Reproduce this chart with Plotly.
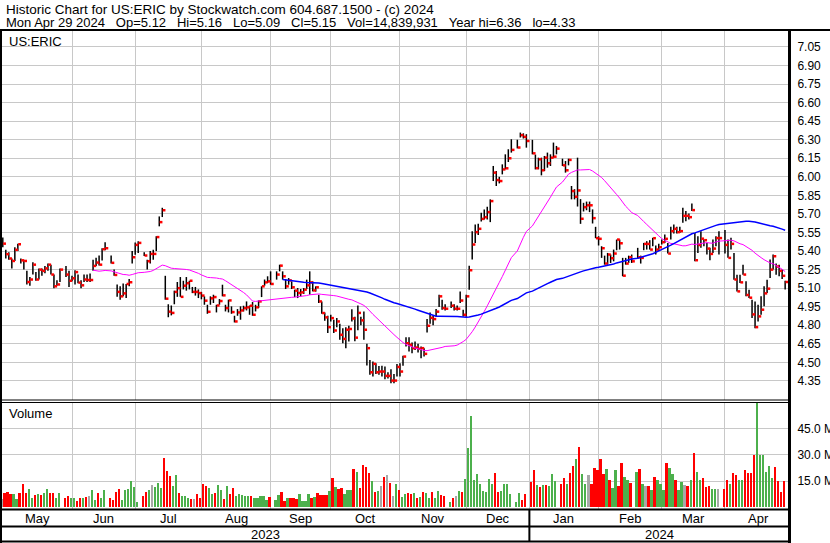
import numpy as np
import pandas as pd
import plotly.graph_objects as go

# ---------------- data ----------------
start_date = "2023-05-01"
end_date = "2024-04-29"
holidays = ["2023-05-29", "2023-06-19", "2023-07-04", "2023-09-04", "2023-11-23",
            "2023-12-25", "2024-01-01", "2024-01-15", "2024-02-19", "2024-03-29"]

high = [
    # May 2023
    5.51, 5.41, 5.39, 5.34, 5.43, 5.46, 5.34, 5.33, 5.24, 5.19, 5.31, 5.23, 5.26, 5.26, 5.28,
    5.30, 5.29, 5.21, 5.165, 5.26, 5.28, 5.24,
    # Jun
    5.20, 5.245, 5.21, 5.164, 5.21, 5.21, 5.218, 5.33, 5.345, 5.364, 5.423, 5.472, 5.364, 5.25,
    5.13, 5.115, 5.137, 5.134, 5.175, 5.40, 5.47,
    # Jul
    5.48, 5.39, 5.33, 5.40, 5.41, 5.52, 5.68, 5.75, 5.20, 4.97, 4.96, 5.08, 5.15, 5.19, 5.16,
    5.19, 5.16, 5.11, 5.11, 5.09,
    # Aug
    5.07, 5.034, 4.966, 5.034, 5.047, 4.966, 5.012, 5.128, 4.966, 5.007, 4.953, 4.877, 4.931,
    4.953, 4.958, 4.993, 4.96, 4.988, 4.966, 5.001, 5.115, 5.17, 5.196,
    # Sep
    5.236, 5.236, 5.29, 5.236, 5.174, 5.182, 5.155, 5.088, 5.101, 5.093, 5.101, 5.169, 5.236,
    5.155, 5.115, 5.047, 4.993, 4.904, 4.877, 4.885,
    # Oct
    4.845, 4.858, 4.812, 4.777, 4.785, 4.796, 4.93, 4.87, 4.96, 4.87, 4.912, 4.65, 4.52, 4.507,
    4.493, 4.47, 4.472, 4.466, 4.42, 4.445, 4.407, 4.488,
    # Nov
    4.493, 4.553, 4.704, 4.704, 4.661, 4.669, 4.65, 4.628, 4.615, 4.85, 4.904, 4.88, 4.931,
    5.047, 5.007, 4.97, 4.993, 4.97, 4.96, 5.074, 4.926,
    # Dec
    5.047, 5.282, 5.56, 5.615, 5.62, 5.71, 5.736, 5.758, 5.818, 6.088, 6.047, 6.0, 6.101, 6.182,
    6.223, 6.304, 6.30, 6.358, 6.352, 6.345,
    # Jan 2024
    6.299, 6.18, 6.155, 6.155, 6.169, 6.196, 6.182, 6.277, 6.25, 6.147, 6.128, 6.147, 5.926,
    5.90, 6.155, 5.82, 5.79, 5.80, 5.80, 5.737, 5.596,
    # Feb
    5.52, 5.439, 5.363, 5.385, 5.372, 5.412, 5.493, 5.493, 5.345, 5.345, 5.363, 5.372, 5.426,
    5.363, 5.466, 5.48, 5.488, 5.507, 5.445, 5.46,
    # Mar
    5.493, 5.534, 5.466, 5.596, 5.615, 5.596, 5.596, 5.75, 5.723, 5.704, 5.785, 5.547, 5.52,
    5.561, 5.493, 5.466, 5.426, 5.493, 5.52, 5.561,
    # Apr
    5.57, 5.493, 5.507, 5.385, 5.209, 5.209, 5.29, 5.155, 5.088, 5.007, 4.993, 4.966, 5.034,
    5.115, 5.169, 5.331, 5.372, 5.299, 5.29, 5.25, 5.16,
]

low = [
    # May 2023
    5.43, 5.34, 5.33, 5.26, 5.32, 5.40, 5.30, 5.25, 5.13, 5.12, 5.21, 5.16, 5.17, 5.20, 5.22,
    5.24, 5.21, 5.10, 5.12, 5.15, 5.19, 5.11,
    # Jun
    5.155, 5.13, 5.14, 5.10, 5.15, 5.15, 5.15, 5.24, 5.28, 5.283, 5.323, 5.407, 5.30, 5.20,
    5.03, 5.007, 5.034, 5.02, 5.115, 5.30, 5.37,
    # Jul
    5.385, 5.36, 5.25, 5.30, 5.33, 5.40, 5.60, 5.675, 5.007, 4.865, 4.88, 4.97, 5.03, 5.03,
    5.09, 5.08, 5.09, 5.06, 5.04, 5.02,
    # Aug
    5.01, 4.966, 4.893, 4.966, 4.98, 4.904, 4.966, 5.034, 4.912, 4.904, 4.893, 4.823, 4.877,
    4.845, 4.912, 4.92, 4.885, 4.877, 4.912, 4.939, 5.028, 5.12, 5.142,
    # Sep
    5.128, 5.169, 5.236, 5.169, 5.093, 5.128, 5.093, 5.028, 5.02, 5.034, 5.053, 5.093, 5.047,
    5.074, 5.072, 4.98, 4.893, 4.837, 4.737, 4.831,
    # Oct
    4.737, 4.785, 4.683, 4.655, 4.615, 4.669, 4.83, 4.67, 4.76, 4.80, 4.683, 4.474, 4.40,
    4.385, 4.407, 4.40, 4.385, 4.364, 4.37, 4.331, 4.331, 4.385,
    # Nov
    4.385, 4.472, 4.628, 4.588, 4.574, 4.601, 4.58, 4.534, 4.547, 4.742, 4.812, 4.80, 4.871,
    4.947, 4.926, 4.92, 4.939, 4.92, 4.92, 4.98, 4.872,
    # Dec
    4.87, 5.088, 5.331, 5.466, 5.53, 5.64, 5.655, 5.655, 5.634, 5.966, 5.926, 5.947, 6.02,
    6.061, 6.12, 6.196, 6.23, 6.318, 6.31, 6.236,
    # Jan 2024
    6.182, 6.06, 6.061, 6.012, 6.047, 6.074, 6.088, 6.155, 6.182, 6.088, 6.034, 6.093, 5.818,
    5.818, 5.76, 5.62, 5.72, 5.73, 5.715, 5.623, 5.504,
    # Feb
    5.445, 5.345, 5.29, 5.29, 5.304, 5.317, 5.407, 5.412, 5.196, 5.29, 5.304, 5.304, 5.336,
    5.299, 5.407, 5.412, 5.412, 5.439, 5.372, 5.40,
    # Mar
    5.453, 5.466, 5.38, 5.493, 5.542, 5.542, 5.547, 5.628, 5.642, 5.655, 5.723, 5.317, 5.385,
    5.426, 5.439, 5.372, 5.326, 5.385, 5.439, 5.372,
    # Apr
    5.38, 5.345, 5.412, 5.169, 5.074, 5.142, 5.209, 5.034, 5.02, 4.858, 4.777, 4.831, 4.885,
    4.953, 5.061, 5.182, 5.25, 5.209, 5.196, 5.174, 5.09,
]

close = [
    # May 2023
    5.46, 5.375, 5.34, 5.32, 5.41, 5.455, 5.325, 5.32, 5.15, 5.17, 5.29, 5.17, 5.25, 5.24, 5.26,
    5.29, 5.21, 5.115, 5.13, 5.25, 5.21, 5.16,
    # Jun
    5.18, 5.23, 5.145, 5.123, 5.17, 5.166, 5.166, 5.28, 5.307, 5.29, 5.415, 5.423, 5.305, 5.207,
    5.07, 5.034, 5.058, 5.134, 5.148, 5.35, 5.45,
    # Jul
    5.466, 5.364, 5.318, 5.377, 5.377, 5.513, 5.634, 5.73, 5.015, 4.91, 4.90, 5.07, 5.10, 5.03,
    5.12, 5.14, 5.16, 5.07, 5.07, 5.06,
    # Aug
    5.04, 4.999, 4.909, 5.018, 5.028, 4.96, 4.996, 5.042, 4.939, 5.001, 4.907, 4.831, 4.904,
    4.92, 4.939, 4.945, 4.958, 4.885, 4.945, 4.993, 5.115, 5.147, 5.155,
    # Sep
    5.134, 5.21, 5.282, 5.196, 5.115, 5.163, 5.107, 5.08, 5.061, 5.066, 5.088, 5.123, 5.147,
    5.082, 5.107, 4.993, 4.899, 4.864, 4.785, 4.858,
    # Oct
    4.758, 4.831, 4.723, 4.69, 4.764, 4.77, 4.855, 4.70, 4.90, 4.84, 4.764, 4.615, 4.42, 4.488,
    4.42, 4.426, 4.426, 4.391, 4.391, 4.353, 4.353, 4.463,
    # Nov
    4.426, 4.547, 4.655, 4.642, 4.615, 4.62, 4.61, 4.615, 4.569, 4.796, 4.86, 4.85, 4.91,
    5.034, 4.939, 4.934, 4.958, 4.934, 4.934, 5.0, 4.885,
    # Dec
    5.034, 5.245, 5.453, 5.553, 5.58, 5.66, 5.674, 5.715, 5.804, 6.034, 5.974, 5.966, 6.06,
    6.069, 6.15, 6.218, 6.237, 6.337, 6.323, 6.29,
    # Jan 2024
    6.19, 6.07, 6.142, 6.053, 6.155, 6.11, 6.155, 6.163, 6.228, 6.093, 6.053, 6.137, 5.885,
    5.839, 5.89, 5.661, 5.755, 5.77, 5.77, 5.666, 5.504,
    # Feb
    5.499, 5.423, 5.299, 5.372, 5.342, 5.38, 5.493, 5.463, 5.201, 5.299, 5.35, 5.317, 5.35,
    5.345, 5.458, 5.458, 5.412, 5.504, 5.412, 5.431,
    # Mar
    5.472, 5.499, 5.38, 5.561, 5.58, 5.553, 5.561, 5.685, 5.685, 5.674, 5.731, 5.326, 5.449,
    5.50, 5.488, 5.42, 5.377, 5.42, 5.505, 5.505,
    # Apr
    5.45, 5.345, 5.458, 5.17, 5.074, 5.147, 5.21, 5.045, 5.023, 4.888, 4.785, 4.872, 4.926,
    5.058, 5.096, 5.25, 5.358, 5.275, 5.24, 5.20, 5.15,
]

volume_m = [
    # May 2023
    4.6, 8.0, 8.6, 7.4, 7.4, 4.6, 8.0, 13.1, 8.4, 10.3, 5.1, 6.8, 7.4, 6.8, 8.4, 10.3, 8.0, 8.0,
    5.5, 8.0, 5.1, 6.3,
    # Jun
    5.1, 5.1, 3.6, 5.1, 5.5, 5.7, 6.3, 9.7, 4.0, 8.0, 5.5, 9.7, 5.1, 4.0, 8.9, 10.3, 4.0, 9.9,
    10.3, 14.8, 11.6,
    # Jul
    3.0, 6.3, 8.7, 9.7, 12.5, 11.6, 13.7, 10.8, 27.9, 20.7, 17.9, 12.0, 18.2, 8.0, 6.3, 6.3,
    5.1, 4.6, 4.6, 7.4,
    # Aug
    5.5, 13.1, 12.0, 10.8, 7.4, 8.0, 12.5, 9.7, 4.6, 12.0, 7.4, 10.8, 6.3, 7.4, 6.8, 6.5, 6.3,
    6.3, 5.1, 5.1, 6.3, 6.3, 4.0,
    # Sep
    6.0, 4.0, 6.8, 8.6, 3.4, 5.1, 5.1, 5.1, 4.6, 7.4, 3.4, 3.4, 7.4, 5.1, 5.7, 8.0, 6.8, 6.8,
    6.8, 9.1,
    # Oct
    16.5, 11.4, 10.3, 10.8, 7.4, 9.7, 9.7, 21.7, 20.0, 10.8, 23.9, 22.8, 19.4, 14.8, 8.6, 9.1,
    12.0, 17.1, 18.2, 13.7, 6.3, 13.1,
    # Nov
    9.7, 5.7, 7.4, 8.0, 7.4, 8.0, 5.5, 5.7, 8.6, 8.0, 5.1, 8.6, 5.1, 9.1, 6.8, 6.3, 3.2, 5.1,
    6.3, 9.1, 8.6,
    # Dec
    16.0, 33.6, 51.8, 15.4, 18.8, 13.1, 9.1, 8.6, 16.0, 13.1, 19.4, 8.6, 9.1, 13.1, 13.1, 7.4,
    2.9, 8.0, 4.0, 7.4,
    # Jan 2024
    14.3, 21.1, 12.5, 11.4, 12.5, 12.5, 12.0, 18.8, 14.8, 13.1, 16.5, 13.1, 19.4, 23.4, 27.4,
    34.2, 18.8, 13.1, 18.2, 13.1, 22.2,
    # Feb
    21.1, 27.4, 18.8, 21.7, 15.4, 10.8, 21.1, 12.0, 25.1, 17.5, 15.8, 14.1, 20.0, 21.7, 13.1,
    12.0, 12.0, 9.7, 17.1, 15.8,
    # Mar
    13.1, 9.7, 25.1, 22.2, 18.8, 15.8, 9.7, 14.3, 12.5, 12.0, 15.8, 31.2, 20.0, 15.8, 16.5,
    11.4, 12.0, 10.3, 10.3, 10.3,
    # Apr
    10.3, 15.4, 13.1, 19.4, 18.2, 15.4, 15.4, 21.1, 19.4, 19.4, 29.6, 62.0, 29.6, 29.6, 20.0,
    23.4, 16.5, 22.8, 14.8, 8.6, 14.84,
]

price_ticks = [4.35, 4.50, 4.65, 4.80, 4.95, 5.10, 5.25, 5.40, 5.55, 5.70, 5.85, 6.00,
               6.15, 6.30, 6.45, 6.60, 6.75, 6.90, 7.05]
volume_ticks = [15, 30, 45]
volume_tick_text = ["15.0 M", "30.0 M", "45.0 M"]
month_names = ["May", "Jun", "Jul", "Aug", "Sep", "Oct", "Nov", "Dec",
               "Jan", "Feb", "Mar", "Apr"]
year_names = ["2023", "2024"]
ma_short, ma_long = 30, 90

SP = "\u00a0\u00a0\u00a0"
header1 = "Historic Chart for US:ERIC by Stockwatch.com 604.687.1500 - (c) 2024"
header2 = SP.join(["Mon Apr 29 2024", "Op=5.12", "Hi=5.16", "Lo=5.09", "Cl=5.15",
                   "Vol=14,839,931", "Year hi=6.36", "lo=4.33"])

# ---------------- positions on a weekday axis ----------------
d0 = np.datetime64(start_date)
wd = pd.bdate_range(start_date, end_date)
days = wd[~wd.isin(pd.to_datetime(holidays))]
xpos = np.busday_count(d0, days.values.astype("datetime64[D]")).astype(float)

month_firsts = pd.date_range("2023-05-01", "2024-05-01", freq="MS")
mpos = [int(np.busday_count(d0, np.busday_offset(np.datetime64(m.date()), 0, roll="backward")))
        for m in month_firsts]
grid_x = mpos[1:-1]
month_centers = [(mpos[i] + mpos[i + 1]) / 2 for i in range(len(month_names))]

high = np.array(high); low = np.array(low); close = np.array(close)
vol = np.array(volume_m)

# volume colours from close-to-close change
diff = np.diff(close, prepend=np.nan)
vcol = np.where(diff > 1e-9, "#4cb04c", np.where(diff < -1e-9, "#ff0000", "#a8a8a8"))

ma1 = pd.Series(close).rolling(ma_short).mean()
ma2 = pd.Series(close).rolling(ma_long).mean()

nan = np.full(len(xpos), np.nan)
hl_x = np.column_stack([xpos, xpos, nan]).ravel()
hl_y = np.column_stack([low, high, nan]).ravel()
cl_x = np.column_stack([xpos + 0.12, xpos + 1.05, nan]).ravel()
cl_y = np.column_stack([close, close, nan]).ravel()

# ---------------- layout geometry (pixels) ----------------
W, H = 830, 543
PL, PR, PT, PB = 2, 789, 31, 509
XR = [-0.266, 261.28]
PRICE_BOTTOM_PX, VOL_TOP_PX = 400, 402


def px2x(px):
    return (px - PL) / (PR - PL)


def py2y(py):
    return (PB - py) / (PB - PT)


def data2px(v):
    return PL + (v - XR[0]) / (XR[1] - XR[0]) * (PR - PL)


FONT = "Liberation Sans, Arial, sans-serif"
GRID = "#c8c8c8"

fig = go.Figure()
fig.add_trace(go.Bar(x=xpos, y=vol, width=0.6, offset=-0.62,
                     marker=dict(color=vcol, line=dict(width=0)),
                     xaxis="x2", yaxis="y2", hoverinfo="skip"))
fig.add_trace(go.Scatter(x=hl_x, y=hl_y, mode="lines", connectgaps=False,
                         line=dict(color="#000000", width=1.5), hoverinfo="skip"))
fig.add_trace(go.Scatter(x=cl_x, y=cl_y, mode="lines", connectgaps=False,
                         line=dict(color="#ff0000", width=2.5), hoverinfo="skip"))
fig.add_trace(go.Scatter(x=xpos, y=ma1, mode="lines",
                         line=dict(color="#ff00ff", width=1), hoverinfo="skip"))
fig.add_trace(go.Scatter(x=xpos, y=ma2, mode="lines",
                         line=dict(color="#0000ff", width=1.5), hoverinfo="skip"))

axis_x = dict(range=XR, tickvals=grid_x, showticklabels=False, showgrid=True,
              gridcolor=GRID, gridwidth=1, zeroline=False, showline=False, ticks="",
              automargin=False)


def line(x0, y0, x1, y1, w=2):
    return dict(type="line", xref="paper", yref="paper",
                x0=px2x(x0), y0=py2y(y0), x1=px2x(x1), y1=py2y(y1),
                line=dict(color="#000000", width=w))


shapes = [
    line(0, 30, 830, 30, 2),
    line(1, 30, 1, 543, 2),
    line(789.5, 30, 789.5, 543, 3),
    line(0, 400, 789, 400, 1),
    line(0, 402.5, 789, 402.5, 1),
    line(0, 509.5, 789, 509.5, 2),
    line(0, 526.5, 789, 526.5, 2),
    line(0, 541.5, 789, 541.5, 2),
    line(data2px(mpos[8]), 510, data2px(mpos[8]), 542, 2),
]

annotations = [
    dict(text=header1, x=px2x(4), y=py2y(9), xanchor="left", yanchor="middle", size=13.5),
    dict(text=header2, x=px2x(4), y=py2y(23), xanchor="left", yanchor="middle", size=13),
    dict(text="US:ERIC", x=px2x(7), y=py2y(42), xanchor="left", yanchor="middle", size=13),
    dict(text="Volume", x=px2x(7), y=py2y(413), xanchor="left", yanchor="middle", size=13),
]
for name, c in zip(month_names, month_centers):
    annotations.append(dict(text=name, x=px2x(data2px(c)), y=py2y(518),
                            xanchor="center", yanchor="middle", size=13))
year_centers = [(XR[0] + mpos[8]) / 2, (mpos[8] + XR[1]) / 2]
for name, c in zip(year_names, year_centers):
    annotations.append(dict(text=name, x=px2x(data2px(c)), y=py2y(534.5),
                            xanchor="center", yanchor="middle", size=13))
for a in annotations:
    s = a.pop("size")
    a.update(xref="paper", yref="paper", showarrow=False,
             font=dict(family=FONT, size=s, color="#000000"))

fig.update_layout(
    width=W, height=H,
    margin=dict(l=PL, r=W - PR, t=PT, b=H - PB, pad=0, autoexpand=False),
    paper_bgcolor="#ffffff", plot_bgcolor="#ffffff",
    showlegend=False, bargap=0,
    xaxis=dict(axis_x, domain=[0, 1], anchor="y"),
    xaxis2=dict(axis_x, domain=[0, 1], anchor="y2", matches="x"),
    yaxis=dict(domain=[py2y(PRICE_BOTTOM_PX), 1], range=[4.196, 7.179], side="right",
               tickvals=price_ticks, ticktext=[f"{v:.2f}" for v in price_ticks],
               showgrid=True, gridcolor=GRID, gridwidth=1, zeroline=False, showline=False,
               ticks="outside", ticklen=5, tickcolor="rgba(0,0,0,0)", automargin=False,
               tickfont=dict(family=FONT, size=12, color="#000000"), anchor="x"),
    yaxis2=dict(domain=[0, py2y(VOL_TOP_PX)], range=[-0.9, 60], side="right",
                tickvals=volume_ticks, ticktext=volume_tick_text,
                showgrid=True, gridcolor=GRID, gridwidth=1, zeroline=False, showline=False,
                ticks="outside", ticklen=5, tickcolor="rgba(0,0,0,0)", automargin=False,
                tickfont=dict(family=FONT, size=12, color="#000000"), anchor="x2"),
    shapes=shapes,
    annotations=annotations,
)

fig.write_html("out.html", config={"displayModeBar": False},
               post_script="document.body.style.margin='0px';")
